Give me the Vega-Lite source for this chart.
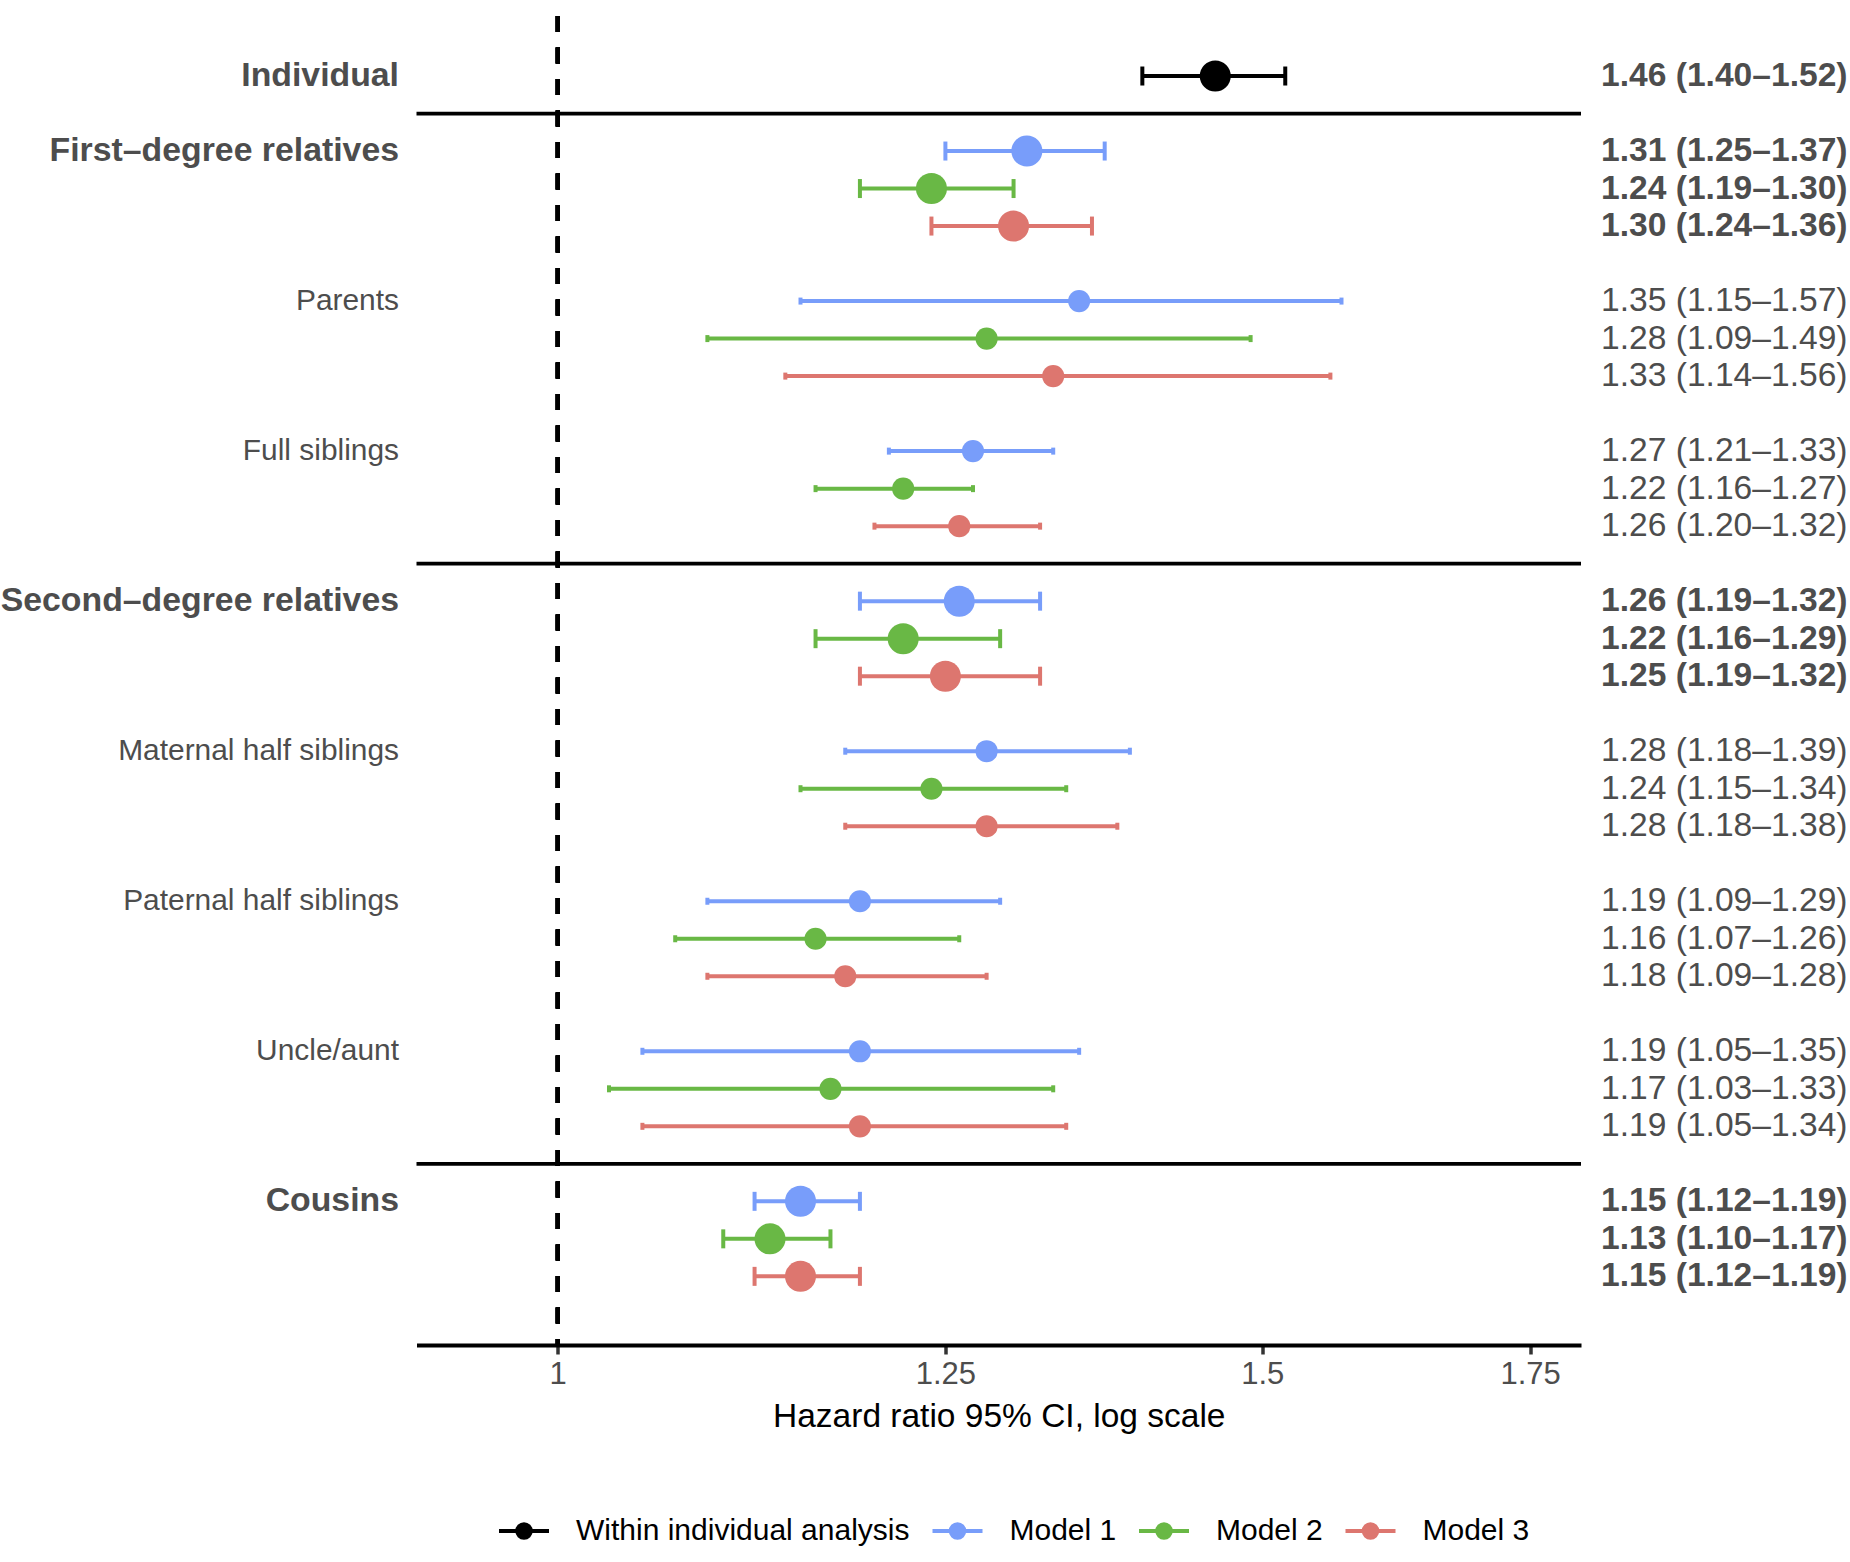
{
  "$schema": "https://vega.github.io/schema/vega-lite/v6.json",
  "padding": {"left": 0, "top": 14, "right": 0, "bottom": 0},
  "bounds": "flush",
  "spacing": 16.5,
  "config": {
    "view": {"stroke": null},
    "font": "Liberation Sans",
    "text": {"font": "Liberation Sans"}
  },
  "datasets": {
    "hr": [
      {"group": "Individual", "level": "main", "model": "Within individual analysis", "row": 0, "est": 1.46, "lo": 1.40, "hi": 1.52},
      {"group": "First–degree relatives", "level": "main", "model": "Model 1", "row": 2, "est": 1.31, "lo": 1.25, "hi": 1.37},
      {"group": "First–degree relatives", "level": "main", "model": "Model 2", "row": 3, "est": 1.24, "lo": 1.19, "hi": 1.30},
      {"group": "First–degree relatives", "level": "main", "model": "Model 3", "row": 4, "est": 1.30, "lo": 1.24, "hi": 1.36},
      {"group": "Parents", "level": "sub", "model": "Model 1", "row": 6, "est": 1.35, "lo": 1.15, "hi": 1.57},
      {"group": "Parents", "level": "sub", "model": "Model 2", "row": 7, "est": 1.28, "lo": 1.09, "hi": 1.49},
      {"group": "Parents", "level": "sub", "model": "Model 3", "row": 8, "est": 1.33, "lo": 1.14, "hi": 1.56},
      {"group": "Full siblings", "level": "sub", "model": "Model 1", "row": 10, "est": 1.27, "lo": 1.21, "hi": 1.33},
      {"group": "Full siblings", "level": "sub", "model": "Model 2", "row": 11, "est": 1.22, "lo": 1.16, "hi": 1.27},
      {"group": "Full siblings", "level": "sub", "model": "Model 3", "row": 12, "est": 1.26, "lo": 1.20, "hi": 1.32},
      {"group": "Second–degree relatives", "level": "main", "model": "Model 1", "row": 14, "est": 1.26, "lo": 1.19, "hi": 1.32},
      {"group": "Second–degree relatives", "level": "main", "model": "Model 2", "row": 15, "est": 1.22, "lo": 1.16, "hi": 1.29},
      {"group": "Second–degree relatives", "level": "main", "model": "Model 3", "row": 16, "est": 1.25, "lo": 1.19, "hi": 1.32},
      {"group": "Maternal half siblings", "level": "sub", "model": "Model 1", "row": 18, "est": 1.28, "lo": 1.18, "hi": 1.39},
      {"group": "Maternal half siblings", "level": "sub", "model": "Model 2", "row": 19, "est": 1.24, "lo": 1.15, "hi": 1.34},
      {"group": "Maternal half siblings", "level": "sub", "model": "Model 3", "row": 20, "est": 1.28, "lo": 1.18, "hi": 1.38},
      {"group": "Paternal half siblings", "level": "sub", "model": "Model 1", "row": 22, "est": 1.19, "lo": 1.09, "hi": 1.29},
      {"group": "Paternal half siblings", "level": "sub", "model": "Model 2", "row": 23, "est": 1.16, "lo": 1.07, "hi": 1.26},
      {"group": "Paternal half siblings", "level": "sub", "model": "Model 3", "row": 24, "est": 1.18, "lo": 1.09, "hi": 1.28},
      {"group": "Uncle/aunt", "level": "sub", "model": "Model 1", "row": 26, "est": 1.19, "lo": 1.05, "hi": 1.35},
      {"group": "Uncle/aunt", "level": "sub", "model": "Model 2", "row": 27, "est": 1.17, "lo": 1.03, "hi": 1.33},
      {"group": "Uncle/aunt", "level": "sub", "model": "Model 3", "row": 28, "est": 1.19, "lo": 1.05, "hi": 1.34},
      {"group": "Cousins", "level": "main", "model": "Model 1", "row": 30, "est": 1.15, "lo": 1.12, "hi": 1.19},
      {"group": "Cousins", "level": "main", "model": "Model 2", "row": 31, "est": 1.13, "lo": 1.10, "hi": 1.17},
      {"group": "Cousins", "level": "main", "model": "Model 3", "row": 32, "est": 1.15, "lo": 1.12, "hi": 1.19}
    ],
    "separators": [{"row": 1}, {"row": 13}, {"row": 29}]
  },
  "hconcat": [
    {
      "width": 400,
      "height": 1329,
      "data": {"name": "hr"},
      "transform": [{"filter": "datum.model === 'Model 1' || datum.model === 'Within individual analysis'"}],
      "encoding": {
        "y": {"field": "row", "type": "quantitative", "scale": {"domain": [-1.6, 33.83], "reverse": true, "nice": false, "zero": false}, "axis": null},
        "text": {"field": "group"}
      },
      "layer": [
        {
          "transform": [{"filter": "datum.level === 'main'"}],
          "mark": {"type": "text", "align": "right", "baseline": "middle", "color": "#4D4D4D", "x": 399, "fontSize": 33.8, "fontWeight": "bold"}
        },
        {
          "transform": [{"filter": "datum.level === 'sub'"}],
          "mark": {"type": "text", "align": "right", "baseline": "middle", "color": "#4D4D4D", "x": 399, "fontSize": 29.9, "fontWeight": "normal"}
        }
      ]
    },
    {
      "width": 1164.5,
      "height": 1329,
      "layer": [
        {
          "data": {"name": "separators"},
          "mark": {"type": "rule", "color": "black", "strokeWidth": 3.8},
          "encoding": {
            "y": {"field": "row", "type": "quantitative", "scale": {"domain": [-1.6, 33.83], "reverse": true, "nice": false, "zero": false}, "axis": null}
          }
        },
        {
          "data": {"name": "hr"},
          "mark": {"type": "rule", "color": "black", "strokeWidth": 3.4, "strokeDash": [16, 15.5]},
          "encoding": {"x": {"datum": 1, "type": "quantitative"}}
        },
        {
          "data": {"name": "hr"},
          "mark": {"type": "rule", "strokeWidth": 4, "opacity": 1},
          "encoding": {
            "x": {"field": "lo", "type": "quantitative"},
            "x2": {"field": "hi"},
            "y": {"field": "row", "type": "quantitative"},
            "color": {"field": "model", "type": "nominal"}
          }
        },
        {
          "data": {"name": "hr"},
          "mark": {"type": "tick", "orient": "vertical", "thickness": 4, "opacity": 1},
          "encoding": {
            "x": {"field": "lo", "type": "quantitative"},
            "y": {"field": "row", "type": "quantitative"},
            "color": {"field": "model", "type": "nominal"},
            "size": {"condition": {"test": "datum.level === 'main'", "value": 19}, "value": 7}
          }
        },
        {
          "data": {"name": "hr"},
          "mark": {"type": "tick", "orient": "vertical", "thickness": 4, "opacity": 1},
          "encoding": {
            "x": {"field": "hi", "type": "quantitative"},
            "y": {"field": "row", "type": "quantitative"},
            "color": {"field": "model", "type": "nominal"},
            "size": {"condition": {"test": "datum.level === 'main'", "value": 19}, "value": 7}
          }
        },
        {
          "data": {"name": "hr"},
          "mark": {"type": "point", "shape": "circle", "filled": true, "opacity": 1},
          "encoding": {
            "x": {
              "field": "est", "type": "quantitative",
              "scale": {"type": "log", "domain": [0.922, 1.802], "nice": false, "zero": false},
              "axis": {
                "values": [1, 1.25, 1.5, 1.75],
                "format": ".3~f",
                "title": "Hazard ratio 95% CI, log scale",
                "grid": false,
                "domainColor": "black",
                "domainWidth": 3.8,
                "tickColor": "#333333",
                "tickWidth": 3.5,
                "tickSize": 9,
                "labelFontSize": 31,
                "labelColor": "#4D4D4D",
                "labelPadding": 5,
                "labelFont": "Liberation Sans",
                "titleFont": "Liberation Sans",
                "titleFontSize": 33.5,
                "titleFontWeight": "normal",
                "titleColor": "black",
                "titlePadding": 11
              }
            },
            "y": {"field": "row", "type": "quantitative"},
            "color": {
              "field": "model", "type": "nominal",
              "scale": {
                "domain": ["Within individual analysis", "Model 1", "Model 2", "Model 3"],
                "range": ["#000000", "#789DFA", "#69B845", "#DD766F"]
              },
              "legend": {
                "title": null,
                "orient": "none",
                "direction": "horizontal",
                "columns": 4,
                "legendX": 497,
                "legendY": 1488,
                "symbolType": "M-1,0H1M0.27,0A0.27,0.27,0,1,1,-0.27,0A0.27,0.27,0,1,1,0.27,0Z",
                "symbolSize": 2500,
                "symbolStrokeWidth": 4,
                "symbolOpacity": 1,
                "labelFontSize": 30,
                "labelFont": "Liberation Sans",
                "labelColor": "black",
                "labelLimit": 0,
                "labelOffset": 25,
                "columnPadding": 14.5,
                "encode": {
                  "symbols": {
                    "update": {
                      "fill": {"scale": "color", "field": "value"},
                      "stroke": {"scale": "color", "field": "value"},
                      "strokeWidth": {"value": 4},
                      "opacity": {"value": 1},
                      "fillOpacity": {"value": 1},
                      "strokeOpacity": {"value": 1}
                    }
                  }
                }
              }
            },
            "size": {"condition": {"test": "datum.level === 'main'", "value": 962}, "value": 491}
          }
        }
      ]
    },
    {
      "width": 249.5,
      "height": 1329,
      "data": {"name": "hr"},
      "transform": [
        {"calculate": "format(datum.est, '.2f') + ' (' + format(datum.lo, '.2f') + '–' + format(datum.hi, '.2f') + ')'", "as": "ci"}
      ],
      "encoding": {
        "y": {"field": "row", "type": "quantitative", "scale": {"domain": [-1.6, 33.83], "reverse": true, "nice": false, "zero": false}, "axis": null},
        "text": {"field": "ci"}
      },
      "layer": [
        {
          "transform": [{"filter": "datum.level === 'main'"}],
          "mark": {"type": "text", "align": "right", "baseline": "middle", "color": "#4D4D4D", "x": 249.5, "fontSize": 33.6, "fontWeight": "bold"}
        },
        {
          "transform": [{"filter": "datum.level === 'sub'"}],
          "mark": {"type": "text", "align": "right", "baseline": "middle", "color": "#4D4D4D", "x": 249.5, "fontSize": 33.6, "fontWeight": "normal"}
        }
      ]
    }
  ]
}
